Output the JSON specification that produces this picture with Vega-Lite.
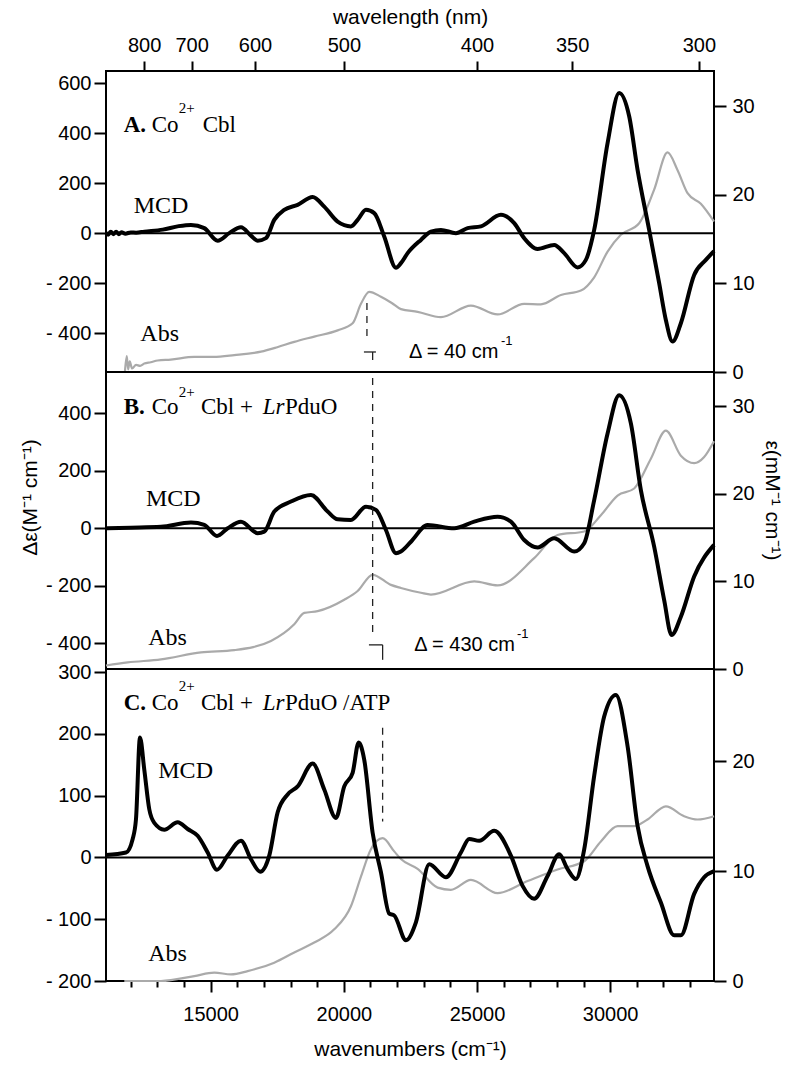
{
"$schema": "https://vega.github.io/schema/vega-lite/v6.json",
"background": "white",
"padding": {"left": 18, "top": 5, "right": 5, "bottom": 5},
"spacing": 0,
"bounds": "flush",
"config": {
  "view": {"stroke": "black", "strokeWidth": 2},
  "axis": {"labelFont": "Liberation Sans", "labelFontSize": 20, "labelColor": "black", "titleFont": "Liberation Sans", "titleFontSize": 21, "titleFontWeight": "normal", "titleColor": "black", "tickColor": "black", "tickWidth": 2, "domain": false, "grid": false}
},
"data": {"values": [
{"p":"A","s":"z","wn":11070,"wn2":33900,"v":0},
{"p":"B","s":"z","wn":11070,"wn2":33900,"v":0},
{"p":"C","s":"z","wn":11070,"wn2":33900,"v":0},

{"p":"A","s":"m","wn":11070,"v":2},{"p":"A","s":"m","wn":11150,"v":-6},{"p":"A","s":"m","wn":11250,"v":6},{"p":"A","s":"m","wn":11350,"v":-4},{"p":"A","s":"m","wn":11450,"v":6},{"p":"A","s":"m","wn":11550,"v":-4},{"p":"A","s":"m","wn":11650,"v":4},{"p":"A","s":"m","wn":11800,"v":-2},{"p":"A","s":"m","wn":12000,"v":3},{"p":"A","s":"m","wn":12200,"v":2},{"p":"A","s":"m","wn":12508,"v":6},{"p":"A","s":"m","wn":13200,"v":14},{"p":"A","s":"m","wn":13800,"v":28},{"p":"A","s":"m","wn":14261,"v":33},{"p":"A","s":"m","wn":14760,"v":20},{"p":"A","s":"m","wn":15263,"v":-30},{"p":"A","s":"m","wn":15699,"v":0},{"p":"A","s":"m","wn":16138,"v":24},{"p":"A","s":"m","wn":16513,"v":-10},{"p":"A","s":"m","wn":16765,"v":-30},{"p":"A","s":"m","wn":17076,"v":-20},{"p":"A","s":"m","wn":17388,"v":53},{"p":"A","s":"m","wn":17763,"v":93},{"p":"A","s":"m","wn":18266,"v":113},{"p":"A","s":"m","wn":18830,"v":144},{"p":"A","s":"m","wn":19265,"v":106},{"p":"A","s":"m","wn":19768,"v":46},{"p":"A","s":"m","wn":20267,"v":27},{"p":"A","s":"m","wn":20519,"v":53},{"p":"A","s":"m","wn":20830,"v":93},{"p":"A","s":"m","wn":21142,"v":80},{"p":"A","s":"m","wn":21517,"v":-13},{"p":"A","s":"m","wn":21957,"v":-138},{"p":"A","s":"m","wn":22144,"v":-120},{"p":"A","s":"m","wn":22396,"v":-80},{"p":"A","s":"m","wn":22895,"v":-27},{"p":"A","s":"m","wn":23271,"v":6},{"p":"A","s":"m","wn":23646,"v":13},{"p":"A","s":"m","wn":24209,"v":0},{"p":"A","s":"m","wn":24648,"v":20},{"p":"A","s":"m","wn":25148,"v":27},{"p":"A","s":"m","wn":25898,"v":73},{"p":"A","s":"m","wn":26398,"v":40},{"p":"A","s":"m","wn":26773,"v":-20},{"p":"A","s":"m","wn":27276,"v":-63},{"p":"A","s":"m","wn":27899,"v":-47},{"p":"A","s":"m","wn":28275,"v":-80},{"p":"A","s":"m","wn":28778,"v":-137},{"p":"A","s":"m","wn":29089,"v":-107},{"p":"A","s":"m","wn":29401,"v":13},{"p":"A","s":"m","wn":29904,"v":360},{"p":"A","s":"m","wn":30339,"v":560},{"p":"A","s":"m","wn":30715,"v":467},{"p":"A","s":"m","wn":31030,"v":253},{"p":"A","s":"m","wn":31465,"v":13},{"p":"A","s":"m","wn":31841,"v":-200},{"p":"A","s":"m","wn":32092,"v":-347},{"p":"A","s":"m","wn":32344,"v":-433},{"p":"A","s":"m","wn":32656,"v":-360},{"p":"A","s":"m","wn":33155,"v":-167},{"p":"A","s":"m","wn":33594,"v":-107},{"p":"A","s":"m","wn":33900,"v":-72},

{"p":"A","s":"a","wn":11780,"v":0.0},{"p":"A","s":"a","wn":11850,"v":1.8},{"p":"A","s":"a","wn":11900,"v":0.3},{"p":"A","s":"a","wn":11960,"v":1.2},{"p":"A","s":"a","wn":12050,"v":0.4},{"p":"A","s":"a","wn":12200,"v":0.8},{"p":"A","s":"a","wn":12350,"v":0.7},{"p":"A","s":"a","wn":12508,"v":0.95},{"p":"A","s":"a","wn":12750,"v":1.1},{"p":"A","s":"a","wn":13011,"v":1.3},{"p":"A","s":"a","wn":13500,"v":1.4},{"p":"A","s":"a","wn":14385,"v":1.7},{"p":"A","s":"a","wn":15100,"v":1.7},{"p":"A","s":"a","wn":15886,"v":1.9},{"p":"A","s":"a","wn":16889,"v":2.3},{"p":"A","s":"a","wn":17500,"v":2.8},{"p":"A","s":"a","wn":18139,"v":3.4},{"p":"A","s":"a","wn":18890,"v":4.0},{"p":"A","s":"a","wn":19768,"v":4.7},{"p":"A","s":"a","wn":20331,"v":5.5},{"p":"A","s":"a","wn":20643,"v":7.7},{"p":"A","s":"a","wn":20954,"v":9.05},{"p":"A","s":"a","wn":21394,"v":8.5},{"p":"A","s":"a","wn":21800,"v":7.8},{"p":"A","s":"a","wn":22144,"v":7.1},{"p":"A","s":"a","wn":22771,"v":6.8},{"p":"A","s":"a","wn":23646,"v":6.2},{"p":"A","s":"a","wn":24772,"v":7.5},{"p":"A","s":"a","wn":25774,"v":6.5},{"p":"A","s":"a","wn":26773,"v":7.7},{"p":"A","s":"a","wn":27400,"v":7.65},{"p":"A","s":"a","wn":28151,"v":8.7},{"p":"A","s":"a","wn":28902,"v":9.2},{"p":"A","s":"a","wn":29401,"v":10.7},{"p":"A","s":"a","wn":29904,"v":13.6},{"p":"A","s":"a","wn":30403,"v":15.5},{"p":"A","s":"a","wn":31090,"v":16.8},{"p":"A","s":"a","wn":31653,"v":20.6},{"p":"A","s":"a","wn":32156,"v":24.8},{"p":"A","s":"a","wn":32532,"v":22.8},{"p":"A","s":"a","wn":32907,"v":20.2},{"p":"A","s":"a","wn":33406,"v":19.0},{"p":"A","s":"a","wn":33900,"v":17.0},

{"p":"B","s":"m","wn":11070,"v":0},{"p":"B","s":"m","wn":12000,"v":2},{"p":"B","s":"m","wn":13135,"v":5},{"p":"B","s":"m","wn":14261,"v":20},{"p":"B","s":"m","wn":14760,"v":12},{"p":"B","s":"m","wn":15237,"v":-27},{"p":"B","s":"m","wn":15639,"v":0},{"p":"B","s":"m","wn":16138,"v":23},{"p":"B","s":"m","wn":16765,"v":-17},{"p":"B","s":"m","wn":17013,"v":-12},{"p":"B","s":"m","wn":17388,"v":58},{"p":"B","s":"m","wn":18015,"v":93},{"p":"B","s":"m","wn":18766,"v":116},{"p":"B","s":"m","wn":19393,"v":58},{"p":"B","s":"m","wn":19768,"v":31},{"p":"B","s":"m","wn":20267,"v":29},{"p":"B","s":"m","wn":20830,"v":75},{"p":"B","s":"m","wn":21206,"v":64},{"p":"B","s":"m","wn":21581,"v":-6},{"p":"B","s":"m","wn":21957,"v":-87},{"p":"B","s":"m","wn":22144,"v":-81},{"p":"B","s":"m","wn":22520,"v":-47},{"p":"B","s":"m","wn":23147,"v":11},{"p":"B","s":"m","wn":24145,"v":0},{"p":"B","s":"m","wn":24896,"v":23},{"p":"B","s":"m","wn":25774,"v":40},{"p":"B","s":"m","wn":26274,"v":23},{"p":"B","s":"m","wn":26773,"v":-41},{"p":"B","s":"m","wn":27276,"v":-67},{"p":"B","s":"m","wn":27899,"v":-35},{"p":"B","s":"m","wn":28650,"v":-81},{"p":"B","s":"m","wn":29026,"v":-52},{"p":"B","s":"m","wn":29401,"v":98},{"p":"B","s":"m","wn":29904,"v":330},{"p":"B","s":"m","wn":30339,"v":463},{"p":"B","s":"m","wn":30779,"v":365},{"p":"B","s":"m","wn":31154,"v":133},{"p":"B","s":"m","wn":31653,"v":-64},{"p":"B","s":"m","wn":32029,"v":-250},{"p":"B","s":"m","wn":32306,"v":-372},{"p":"B","s":"m","wn":32656,"v":-308},{"p":"B","s":"m","wn":33155,"v":-168},{"p":"B","s":"m","wn":33900,"v":-58},

{"p":"B","s":"a","wn":11070,"v":0.4},{"p":"B","s":"a","wn":11885,"v":0.75},{"p":"B","s":"a","wn":13135,"v":1.1},{"p":"B","s":"a","wn":14636,"v":1.9},{"p":"B","s":"a","wn":15886,"v":2.15},{"p":"B","s":"a","wn":17264,"v":3.2},{"p":"B","s":"a","wn":18139,"v":5.1},{"p":"B","s":"a","wn":18514,"v":6.4},{"p":"B","s":"a","wn":19017,"v":6.6},{"p":"B","s":"a","wn":20016,"v":7.9},{"p":"B","s":"a","wn":20519,"v":8.9},{"p":"B","s":"a","wn":21082,"v":10.75},{"p":"B","s":"a","wn":21769,"v":9.6},{"p":"B","s":"a","wn":22144,"v":9.25},{"p":"B","s":"a","wn":22895,"v":8.7},{"p":"B","s":"a","wn":23271,"v":8.5},{"p":"B","s":"a","wn":24896,"v":10.0},{"p":"B","s":"a","wn":25774,"v":9.55},{"p":"B","s":"a","wn":27148,"v":12.65},{"p":"B","s":"a","wn":28027,"v":15.3},{"p":"B","s":"a","wn":29026,"v":15.7},{"p":"B","s":"a","wn":29652,"v":17.55},{"p":"B","s":"a","wn":30279,"v":19.8},{"p":"B","s":"a","wn":30902,"v":20.6},{"p":"B","s":"a","wn":31529,"v":24.0},{"p":"B","s":"a","wn":32092,"v":27.2},{"p":"B","s":"a","wn":32656,"v":24.35},{"p":"B","s":"a","wn":33155,"v":23.5},{"p":"B","s":"a","wn":33530,"v":24.2},{"p":"B","s":"a","wn":33900,"v":26.0},

{"p":"C","s":"m","wn":11070,"v":4},{"p":"C","s":"m","wn":11821,"v":8},{"p":"C","s":"m","wn":12072,"v":30},{"p":"C","s":"m","wn":12196,"v":62},{"p":"C","s":"m","wn":12346,"v":194},{"p":"C","s":"m","wn":12508,"v":142},{"p":"C","s":"m","wn":12695,"v":78},{"p":"C","s":"m","wn":12883,"v":56},{"p":"C","s":"m","wn":13259,"v":45},{"p":"C","s":"m","wn":13762,"v":57},{"p":"C","s":"m","wn":14137,"v":46},{"p":"C","s":"m","wn":14512,"v":35},{"p":"C","s":"m","wn":14888,"v":8},{"p":"C","s":"m","wn":15237,"v":-20},{"p":"C","s":"m","wn":15639,"v":3},{"p":"C","s":"m","wn":16138,"v":27},{"p":"C","s":"m","wn":16513,"v":-3},{"p":"C","s":"m","wn":16862,"v":-23},{"p":"C","s":"m","wn":17200,"v":3},{"p":"C","s":"m","wn":17516,"v":73},{"p":"C","s":"m","wn":17891,"v":102},{"p":"C","s":"m","wn":18266,"v":115},{"p":"C","s":"m","wn":18830,"v":152},{"p":"C","s":"m","wn":19265,"v":110},{"p":"C","s":"m","wn":19704,"v":64},{"p":"C","s":"m","wn":20016,"v":115},{"p":"C","s":"m","wn":20331,"v":137},{"p":"C","s":"m","wn":20556,"v":186},{"p":"C","s":"m","wn":20767,"v":158},{"p":"C","s":"m","wn":21082,"v":40},{"p":"C","s":"m","wn":21394,"v":-24},{"p":"C","s":"m","wn":21705,"v":-91},{"p":"C","s":"m","wn":21893,"v":-94},{"p":"C","s":"m","wn":22332,"v":-134},{"p":"C","s":"m","wn":22707,"v":-105},{"p":"C","s":"m","wn":23207,"v":-11},{"p":"C","s":"m","wn":23834,"v":-32},{"p":"C","s":"m","wn":24397,"v":8},{"p":"C","s":"m","wn":24708,"v":30},{"p":"C","s":"m","wn":25084,"v":27},{"p":"C","s":"m","wn":25647,"v":43},{"p":"C","s":"m","wn":26274,"v":3},{"p":"C","s":"m","wn":26713,"v":-46},{"p":"C","s":"m","wn":27146,"v":-67},{"p":"C","s":"m","wn":27651,"v":-30},{"p":"C","s":"m","wn":28087,"v":5},{"p":"C","s":"m","wn":28402,"v":-19},{"p":"C","s":"m","wn":28714,"v":-35},{"p":"C","s":"m","wn":29026,"v":13},{"p":"C","s":"m","wn":29401,"v":132},{"p":"C","s":"m","wn":29776,"v":228},{"p":"C","s":"m","wn":30215,"v":263},{"p":"C","s":"m","wn":30655,"v":180},{"p":"C","s":"m","wn":31030,"v":51},{"p":"C","s":"m","wn":31405,"v":-14},{"p":"C","s":"m","wn":31905,"v":-73},{"p":"C","s":"m","wn":32404,"v":-126},{"p":"C","s":"m","wn":32656,"v":-126},{"p":"C","s":"m","wn":33155,"v":-59},{"p":"C","s":"m","wn":33530,"v":-32},{"p":"C","s":"m","wn":33900,"v":-22},

{"p":"C","s":"a","wn":11757,"v":0},{"p":"C","s":"a","wn":13135,"v":0},{"p":"C","s":"a","wn":14385,"v":0.45},{"p":"C","s":"a","wn":15136,"v":0.76},{"p":"C","s":"a","wn":15763,"v":0.6},{"p":"C","s":"a","wn":16389,"v":0.9},{"p":"C","s":"a","wn":17388,"v":1.67},{"p":"C","s":"a","wn":18139,"v":2.6},{"p":"C","s":"a","wn":18890,"v":3.5},{"p":"C","s":"a","wn":19640,"v":4.7},{"p":"C","s":"a","wn":20267,"v":6.8},{"p":"C","s":"a","wn":20643,"v":9.5},{"p":"C","s":"a","wn":21018,"v":12.0},{"p":"C","s":"a","wn":21457,"v":13.0},{"p":"C","s":"a","wn":21893,"v":11.8},{"p":"C","s":"a","wn":22144,"v":11.1},{"p":"C","s":"a","wn":22771,"v":10.2},{"p":"C","s":"a","wn":23522,"v":8.5},{"p":"C","s":"a","wn":24021,"v":8.3},{"p":"C","s":"a","wn":24772,"v":9.2},{"p":"C","s":"a","wn":25774,"v":8.0},{"p":"C","s":"a","wn":26901,"v":9.1},{"p":"C","s":"a","wn":28027,"v":10.15},{"p":"C","s":"a","wn":29026,"v":10.9},{"p":"C","s":"a","wn":29652,"v":12.7},{"p":"C","s":"a","wn":30279,"v":14.1},{"p":"C","s":"a","wn":30902,"v":14.1},{"p":"C","s":"a","wn":31405,"v":14.7},{"p":"C","s":"a","wn":32092,"v":15.9},{"p":"C","s":"a","wn":32779,"v":15.0},{"p":"C","s":"a","wn":33282,"v":14.7},{"p":"C","s":"a","wn":33900,"v":15.0},

{"p":"A","s":"d","wn":20868,"wn2":20868,"v":-279,"v2":-435},
{"p":"A","s":"g","wn":20755,"wn2":21206,"v":-475,"v2":-475},
{"p":"A","s":"g","wn":21082,"wn2":21082,"v":-475,"v2":-507},
{"p":"B","s":"d","wn":21082,"wn2":21082,"v":523,"v2":-371},
{"p":"B","s":"g","wn":20943,"wn2":21457,"v":-406,"v2":-406},
{"p":"B","s":"g","wn":21457,"wn2":21457,"v":-406,"v2":-458},
{"p":"C","s":"d","wn":21457,"wn2":21457,"v":210,"v2":58},

{"p":"A","s":"tb","wn":11734,"v":406,"t":"A."},
{"p":"A","s":"tn","wn":12786,"v":406,"t":"Co"},
{"p":"A","s":"ts","wn":13800,"v":481,"t":"2+"},
{"p":"A","s":"tn","wn":14700,"v":406,"t":"Cbl"},
{"p":"A","s":"tl","wn":12110,"v":80,"t":"MCD"},
{"p":"A","s":"tl","wn":12358,"v":-433,"t":"Abs"},
{"p":"A","s":"td","wn":22444,"v":-500,"t":"Δ = 40 cm"},
{"p":"A","s":"tds","wn":25898,"v":-447,"t":"-1"},

{"p":"B","s":"tb","wn":11734,"v":398,"t":"B."},
{"p":"B","s":"tn","wn":12786,"v":398,"t":"Co"},
{"p":"B","s":"ts","wn":13800,"v":458,"t":"2+"},
{"p":"B","s":"tn","wn":14636,"v":398,"t":"Cbl +"},
{"p":"B","s":"ti","wn":16953,"v":398,"t":"Lr"},
{"p":"B","s":"tn","wn":17790,"v":398,"t":"PduO"},
{"p":"B","s":"tl","wn":12572,"v":78,"t":"MCD"},
{"p":"B","s":"tl","wn":12658,"v":-406,"t":"Abs"},
{"p":"B","s":"td","wn":22644,"v":-429,"t":"Δ = 430 cm"},
{"p":"B","s":"tds","wn":26499,"v":-382,"t":"-1"},

{"p":"C","s":"tb","wn":11734,"v":239,"t":"C."},
{"p":"C","s":"tn","wn":12786,"v":239,"t":"Co"},
{"p":"C","s":"ts","wn":13800,"v":269,"t":"2+"},
{"p":"C","s":"tn","wn":14636,"v":239,"t":"Cbl +"},
{"p":"C","s":"ti","wn":16953,"v":239,"t":"Lr"},
{"p":"C","s":"tn","wn":17790,"v":239,"t":"PduO /ATP"},
{"p":"C","s":"tl","wn":13033,"v":129,"t":"MCD"},
{"p":"C","s":"tl","wn":12658,"v":-167,"t":"Abs"}
]},
"vconcat": [
{
  "width": 608, "height": 301,
  "encoding": {
    "x": {"field": "wn", "type": "quantitative", "scale": {"domain": [11070, 33900], "nice": false, "zero": false},
          "axis": {"orient": "top", "values": [12500, 14285.714, 16666.667, 20000, 25000, 28571.429, 33333.333], "labelExpr": "format(1e7 / datum.value, '.0f')", "title": "wavelength (nm)", "tickSize": 10, "labelPadding": 6, "titlePadding": 8}}
  },
  "layer": [
    {
      "transform": [{"filter": "datum.p === 'A' && datum.s === 'a'"}],
      "mark": {"type": "line", "color": "#aaaaaa", "strokeWidth": 2.2, "interpolate": "monotone"},
      "encoding": {
        "y": {"field": "v", "type": "quantitative", "scale": {"domain": [0, 34.0], "nice": false, "zero": false}, "axis": {"orient": "right", "values": [0, 10, 20, 30], "title": null, "tickSize": 12, "labelPadding": 6}}
      }
    },
    {
      "encoding": {
        "y": {"field": "v", "type": "quantitative", "scale": {"domain": [-555, 648], "nice": false, "zero": false},
              "axis": {"orient": "left", "values": [-400, -200, 0, 200, 400, 600], "labelExpr": "datum.value < 0 ? '- ' + format(-datum.value, 'd') : format(datum.value, 'd')", "title": null, "tickSize": 12, "labelPadding": 3}}
      },
      "layer": [
        {"transform": [{"filter": "datum.p === 'A' && datum.s === 'z'"}], "mark": {"type": "rule", "color": "black", "strokeWidth": 2}, "encoding": {"x2": {"field": "wn2"}}},
        {"transform": [{"filter": "datum.p === 'A' && datum.s === 'm'"}], "mark": {"type": "line", "color": "black", "strokeWidth": 4, "interpolate": "monotone"}, "encoding": {}},
        {"transform": [{"filter": "datum.p === 'A' && datum.s === 'd'"}], "mark": {"type": "rule", "color": "#222222", "strokeWidth": 1.3, "strokeDash": [7, 6]}, "encoding": {"x2": {"field": "wn2"}, "y2": {"field": "v2"}}},
        {"transform": [{"filter": "datum.p === 'A' && datum.s === 'g'"}], "mark": {"type": "rule", "color": "#222222", "strokeWidth": 1.3}, "encoding": {"x2": {"field": "wn2"}, "y2": {"field": "v2"}}},
        {"transform": [{"filter": "datum.p === 'A' && datum.s === 'tb'"}], "mark": {"type": "text", "font": "Liberation Serif", "fontSize": 23, "fontWeight": "bold", "align": "left", "baseline": "alphabetic", "color": "black"}, "encoding": {"text": {"field": "t"}}},
        {"transform": [{"filter": "datum.p === 'A' && datum.s === 'tn'"}], "mark": {"type": "text", "font": "Liberation Serif", "fontSize": 23, "align": "left", "baseline": "alphabetic", "color": "black"}, "encoding": {"text": {"field": "t"}}},
        {"transform": [{"filter": "datum.p === 'A' && datum.s === 'ts'"}], "mark": {"type": "text", "font": "Liberation Serif", "fontSize": 15, "align": "left", "baseline": "alphabetic", "color": "black"}, "encoding": {"text": {"field": "t"}}},
        {"transform": [{"filter": "datum.p === 'A' && datum.s === 'tl'"}], "mark": {"type": "text", "font": "Liberation Serif", "fontSize": 24, "align": "left", "baseline": "alphabetic", "color": "black"}, "encoding": {"text": {"field": "t"}}},
        {"transform": [{"filter": "datum.p === 'A' && datum.s === 'td'"}], "mark": {"type": "text", "font": "Liberation Sans", "fontSize": 20, "align": "left", "baseline": "alphabetic", "color": "black"}, "encoding": {"text": {"field": "t"}}},
        {"transform": [{"filter": "datum.p === 'A' && datum.s === 'tds'"}], "mark": {"type": "text", "font": "Liberation Sans", "fontSize": 13, "align": "left", "baseline": "alphabetic", "color": "black"}, "encoding": {"text": {"field": "t"}}}
      ]
    }
  ],
  "resolve": {"scale": {"y": "independent"}}
},
{
  "width": 608, "height": 297,
  "encoding": {
    "x": {"field": "wn", "type": "quantitative", "scale": {"domain": [11070, 33900], "nice": false, "zero": false}, "axis": null}
  },
  "layer": [
    {
      "transform": [{"filter": "datum.p === 'B' && datum.s === 'a'"}],
      "mark": {"type": "line", "color": "#aaaaaa", "strokeWidth": 2.2, "interpolate": "monotone"},
      "encoding": {
        "y": {"field": "v", "type": "quantitative", "scale": {"domain": [0, 33.9], "nice": false, "zero": false}, "axis": {"orient": "right", "values": [0, 10, 20, 30], "title": "ε(mM⁻¹ cm⁻¹)", "titleX": 47, "titleY": 128, "titleAngle": 90, "titleBaseline": "bottom", "tickSize": 12, "labelPadding": 6}}
      }
    },
    {
      "encoding": {
        "y": {"field": "v", "type": "quantitative", "scale": {"domain": [-490, 544], "nice": false, "zero": false},
              "axis": {"orient": "left", "values": [-400, -200, 0, 200, 400], "labelExpr": "datum.value < 0 ? '- ' + format(-datum.value, 'd') : format(datum.value, 'd')", "title": "Δε(M⁻¹ cm⁻¹)", "titleY": 125, "titleX": -66, "titleBaseline": "bottom", "titleAngle": 270, "tickSize": 12, "labelPadding": 3}}
      },
      "layer": [
        {"transform": [{"filter": "datum.p === 'B' && datum.s === 'z'"}], "mark": {"type": "rule", "color": "black", "strokeWidth": 2}, "encoding": {"x2": {"field": "wn2"}}},
        {"transform": [{"filter": "datum.p === 'B' && datum.s === 'm'"}], "mark": {"type": "line", "color": "black", "strokeWidth": 4, "interpolate": "monotone"}, "encoding": {}},
        {"transform": [{"filter": "datum.p === 'B' && datum.s === 'd'"}], "mark": {"type": "rule", "color": "#222222", "strokeWidth": 1.3, "strokeDash": [7, 6]}, "encoding": {"x2": {"field": "wn2"}, "y2": {"field": "v2"}}},
        {"transform": [{"filter": "datum.p === 'B' && datum.s === 'g'"}], "mark": {"type": "rule", "color": "#222222", "strokeWidth": 1.3}, "encoding": {"x2": {"field": "wn2"}, "y2": {"field": "v2"}}},
        {"transform": [{"filter": "datum.p === 'B' && datum.s === 'tb'"}], "mark": {"type": "text", "font": "Liberation Serif", "fontSize": 23, "fontWeight": "bold", "align": "left", "baseline": "alphabetic", "color": "black"}, "encoding": {"text": {"field": "t"}}},
        {"transform": [{"filter": "datum.p === 'B' && datum.s === 'tn'"}], "mark": {"type": "text", "font": "Liberation Serif", "fontSize": 23, "align": "left", "baseline": "alphabetic", "color": "black"}, "encoding": {"text": {"field": "t"}}},
        {"transform": [{"filter": "datum.p === 'B' && datum.s === 'ti'"}], "mark": {"type": "text", "font": "Liberation Serif", "fontSize": 23, "fontStyle": "italic", "align": "left", "baseline": "alphabetic", "color": "black"}, "encoding": {"text": {"field": "t"}}},
        {"transform": [{"filter": "datum.p === 'B' && datum.s === 'ts'"}], "mark": {"type": "text", "font": "Liberation Serif", "fontSize": 15, "align": "left", "baseline": "alphabetic", "color": "black"}, "encoding": {"text": {"field": "t"}}},
        {"transform": [{"filter": "datum.p === 'B' && datum.s === 'tl'"}], "mark": {"type": "text", "font": "Liberation Serif", "fontSize": 24, "align": "left", "baseline": "alphabetic", "color": "black"}, "encoding": {"text": {"field": "t"}}},
        {"transform": [{"filter": "datum.p === 'B' && datum.s === 'td'"}], "mark": {"type": "text", "font": "Liberation Sans", "fontSize": 20, "align": "left", "baseline": "alphabetic", "color": "black"}, "encoding": {"text": {"field": "t"}}},
        {"transform": [{"filter": "datum.p === 'B' && datum.s === 'tds'"}], "mark": {"type": "text", "font": "Liberation Sans", "fontSize": 13, "align": "left", "baseline": "alphabetic", "color": "black"}, "encoding": {"text": {"field": "t"}}}
      ]
    }
  ],
  "resolve": {"scale": {"y": "independent"}}
},
{
  "width": 608, "height": 312,
  "encoding": {
    "x": {"field": "wn", "type": "quantitative", "scale": {"domain": [11070, 33900], "nice": false, "zero": false},
          "axis": {"orient": "bottom", "values": [12000, 13000, 14000, 15000, 16000, 17000, 18000, 19000, 20000, 21000, 22000, 23000, 24000, 25000, 26000, 27000, 28000, 29000, 30000, 31000, 32000, 33000], "labelExpr": "datum.value % 5000 === 0 ? format(datum.value, 'd') : ''", "tickSize": {"condition": {"test": "datum.value % 5000 === 0", "value": 11}, "value": 6}, "labelPadding": 12, "title": "wavenumbers (cm⁻¹)", "titlePadding": 14}}
  },
  "layer": [
    {
      "transform": [{"filter": "datum.p === 'C' && datum.s === 'a'"}],
      "mark": {"type": "line", "color": "#aaaaaa", "strokeWidth": 2.2, "interpolate": "monotone"},
      "encoding": {
        "y": {"field": "v", "type": "quantitative", "scale": {"domain": [0, 28.4], "nice": false, "zero": false}, "axis": {"orient": "right", "values": [0, 10, 20], "title": null, "tickSize": 12, "labelPadding": 6}}
      }
    },
    {
      "encoding": {
        "y": {"field": "v", "type": "quantitative", "scale": {"domain": [-200, 305], "nice": false, "zero": false},
              "axis": {"orient": "left", "values": [-200, -100, 0, 100, 200, 300], "labelExpr": "datum.value < 0 ? '- ' + format(-datum.value, 'd') : format(datum.value, 'd')", "title": null, "tickSize": 12, "labelPadding": 3}}
      },
      "layer": [
        {"transform": [{"filter": "datum.p === 'C' && datum.s === 'z'"}], "mark": {"type": "rule", "color": "black", "strokeWidth": 2}, "encoding": {"x2": {"field": "wn2"}}},
        {"transform": [{"filter": "datum.p === 'C' && datum.s === 'm'"}], "mark": {"type": "line", "color": "black", "strokeWidth": 4, "interpolate": "monotone"}, "encoding": {}},
        {"transform": [{"filter": "datum.p === 'C' && datum.s === 'd'"}], "mark": {"type": "rule", "color": "#222222", "strokeWidth": 1.3, "strokeDash": [7, 6]}, "encoding": {"x2": {"field": "wn2"}, "y2": {"field": "v2"}}},
        {"transform": [{"filter": "datum.p === 'C' && datum.s === 'tb'"}], "mark": {"type": "text", "font": "Liberation Serif", "fontSize": 23, "fontWeight": "bold", "align": "left", "baseline": "alphabetic", "color": "black"}, "encoding": {"text": {"field": "t"}}},
        {"transform": [{"filter": "datum.p === 'C' && datum.s === 'tn'"}], "mark": {"type": "text", "font": "Liberation Serif", "fontSize": 23, "align": "left", "baseline": "alphabetic", "color": "black"}, "encoding": {"text": {"field": "t"}}},
        {"transform": [{"filter": "datum.p === 'C' && datum.s === 'ti'"}], "mark": {"type": "text", "font": "Liberation Serif", "fontSize": 23, "fontStyle": "italic", "align": "left", "baseline": "alphabetic", "color": "black"}, "encoding": {"text": {"field": "t"}}},
        {"transform": [{"filter": "datum.p === 'C' && datum.s === 'ts'"}], "mark": {"type": "text", "font": "Liberation Serif", "fontSize": 15, "align": "left", "baseline": "alphabetic", "color": "black"}, "encoding": {"text": {"field": "t"}}},
        {"transform": [{"filter": "datum.p === 'C' && datum.s === 'tl'"}], "mark": {"type": "text", "font": "Liberation Serif", "fontSize": 24, "align": "left", "baseline": "alphabetic", "color": "black"}, "encoding": {"text": {"field": "t"}}}
      ]
    }
  ],
  "resolve": {"scale": {"y": "independent"}}
}
]
}
